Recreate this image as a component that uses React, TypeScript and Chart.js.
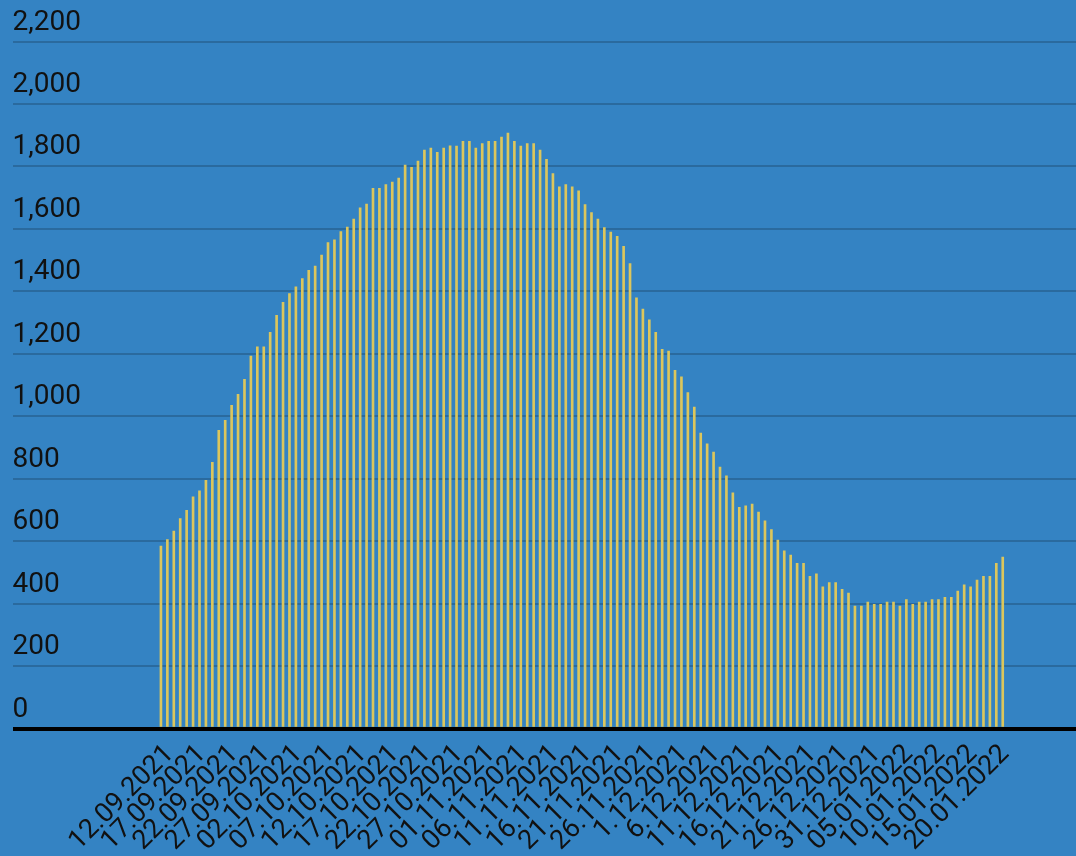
import React, { useEffect, useRef } from "react";
import { Chart, registerables } from "chart.js";

Chart.register(...registerables);

// Daily values, 12.09.2021 .. 21.01.2022 (132 days)
const values: number[] = [
  584, 605, 632, 672, 699, 742, 761, 795, 852, 955,
  987, 1035, 1070, 1118, 1193, 1222, 1222, 1269, 1323, 1365,
  1393, 1414, 1441, 1467, 1481, 1516, 1556, 1565, 1591, 1606,
  1631, 1667, 1679, 1730, 1730, 1742, 1750, 1763, 1804, 1797,
  1817, 1852, 1859, 1845, 1859, 1866, 1865, 1880, 1880, 1859,
  1873, 1880, 1880, 1894, 1907, 1880, 1865, 1873, 1873, 1852,
  1823, 1777, 1735, 1742, 1735, 1722, 1678, 1652, 1631, 1604,
  1590, 1576, 1544, 1489, 1379, 1343, 1309, 1269, 1214, 1209,
  1147, 1126, 1076, 1029, 946, 912, 885, 837, 809, 755,
  708, 713, 719, 693, 665, 637, 603, 569, 555, 529,
  529, 487, 495, 454, 467, 467, 446, 434, 392, 392,
  405, 398, 398, 405, 405, 392, 413, 398, 405, 405,
  413, 413, 420, 420, 440, 460, 454, 475, 487, 487,
  529, 549,
];

// Tick labels shown every 5th day
const tickLabels: string[] = [
  "12.09.2021", "17.09.2021", "22.09.2021", "27.09.2021", "02.10.2021",
  "07.10.2021", "12.10.2021", "17.10.2021", "22.10.2021", "27.10.2021",
  "01.11.2021", "06.11.2021", "11.11.2021", "16.11.2021", "21.11.2021",
  "26.11.2021", "1.12.2021", "6.12.2021", "11.12.2021", "16.12.2021",
  "21.12.2021", "26.12.2021", "31.12.2021", "05.01.2022", "10.01.2022",
  "15.01.2022", "20.01.2022",
];
const tickEvery = 5;

const yTicks: number[] = [0, 200, 400, 600, 800, 1000, 1200, 1400, 1600, 1800, 2000, 2200];

const BG = "#3483c3";
const GRID = "#2a6a9e";
const BAR = "#dcc65c";
const TEXT = "#111111";
const FONT = "Roboto";

export default function App() {
  const ref = useRef<HTMLCanvasElement | null>(null);

  useEffect(() => {
    if (!ref.current) return;
    const chart = new Chart(ref.current, {
      type: "bar",
      data: {
        datasets: [
          {
            data: values.map((v, i) => ({ x: i, y: v })),
            backgroundColor: BAR,
            borderWidth: 0,
            barThickness: 2,
          },
        ],
      },
      options: {
        animation: false,
        responsive: false,
        devicePixelRatio: 1,
        layout: { padding: { left: 12.5, top: 41.5, right: 0, bottom: 0 } },
        plugins: { legend: { display: false }, tooltip: { enabled: false } },
        scales: {
          x: {
            type: "linear",
            min: -23.1,
            max: 142.4,
            offset: false,
            grid: { display: false, drawTicks: false },
            border: { display: false },
            afterBuildTicks: (scale: any) => {
              scale.ticks = tickLabels.map((_, i) => ({ value: i * tickEvery }));
            },
            afterFit: (scale: any) => {
              scale.height = 127.5;
            },
            ticks: {
              autoSkip: false,
              minRotation: 45,
              maxRotation: 45,
              padding: 10,
              labelOffset: 9,
              color: TEXT,
              font: { family: FONT, size: 27 },
              callback: (value: any) => {
                const idx = Math.round(Number(value) / tickEvery);
                return tickLabels[idx] ?? "";
              },
            },
          },
          y: {
            min: yTicks[0],
            max: yTicks[yTicks.length - 1],
            afterBuildTicks: (scale: any) => {
              scale.ticks = yTicks.map((v) => ({ value: v }));
            },
            border: { display: false },
            grid: {
              drawTicks: false,
              color: (ctx: any) => (ctx.tick && ctx.tick.value === 0 ? "#000000" : GRID),
              lineWidth: (ctx: any) => (ctx.tick && ctx.tick.value === 0 ? 4 : 2),
            },
            ticks: {
              mirror: true,
              padding: 0,
              labelOffset: -19,
              color: TEXT,
              font: { family: FONT, size: 28 },
              callback: (value: any) => Number(value).toLocaleString("en-US"),
            },
          },
        },
      },
    });
    return () => chart.destroy();
  }, []);

  return (
    <div
      style={{
        position: "fixed",
        left: 0,
        top: 0,
        width: 1076,
        height: 856,
        background: BG,
        overflow: "hidden",
      }}
    >
      <canvas ref={ref} width={1076} height={856} style={{ display: "block" }} />
    </div>
  );
}
